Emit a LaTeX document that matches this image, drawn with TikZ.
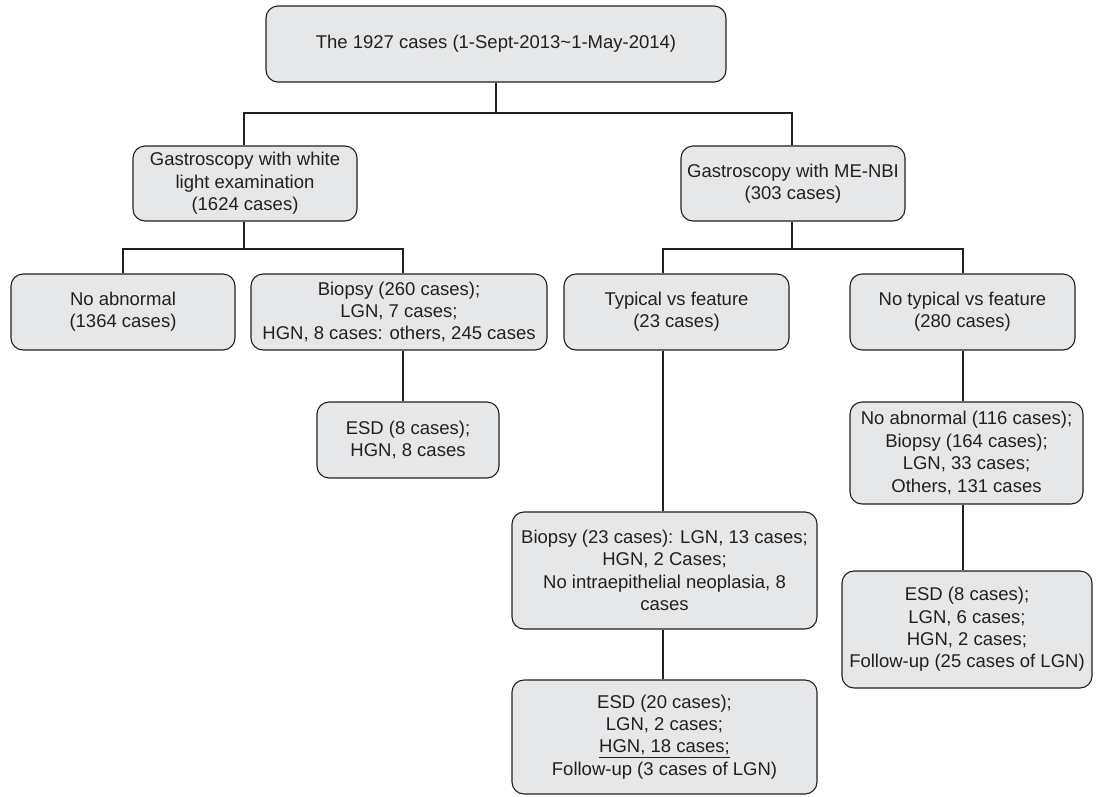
\documentclass[tikz,border=0pt]{standalone}
\usepackage{fontspec}
\setmainfont{Liberation Sans}
\definecolor{ink}{HTML}{231F20}
\definecolor{boxfill}{HTML}{E6E7E8}
\tikzset{
  box/.style={draw=ink, line width=1.1pt, fill=boxfill, rounded corners=12pt,
    align=center, inner sep=0pt, text=ink,
    font=\fontsize{18.5}{22.4}\selectfont},
  conn/.style={draw=ink, line width=2pt}
}
\begin{document}
\begin{tikzpicture}[x=1pt,y=-1pt]
\useasboundingbox (0,0) rectangle (1096,796);
% boxes
\node[box, minimum width=460, minimum height=76] (top) at (496,44) {The 1927 cases (1-Sept-2013\textasciitilde 1-May-2014)};
\node[box, minimum width=224, minimum height=75] (wl) at (245,183.5) {Gastroscopy with white\\light examination\\(1624 cases)};
\node[box, minimum width=224, minimum height=75] (nbi) at (793,183.5) {Gastroscopy with ME-NBI\\(303 cases)};
\node[box, minimum width=224, minimum height=76] (noab) at (123,312) {No abnormal\\(1364 cases)};
\node[box, minimum width=296, minimum height=76] (bio260) at (399,312) {Biopsy (260 cases);\\LGN, 7 cases;\\HGN, 8 cases: others, 245 cases};
\node[box, minimum width=225, minimum height=76] (typ) at (676.5,312) {Typical vs feature\\(23 cases)};
\node[box, minimum width=225, minimum height=76] (notyp) at (962.5,312) {No typical vs feature\\(280 cases)};
\node[box, minimum width=182, minimum height=76] (esd8) at (408,440) {ESD (8 cases);\\HGN, 8 cases};
\node[box, minimum width=305, minimum height=117] (bio23) at (664.5,570.5) {Biopsy (23 cases): LGN, 13 cases;\\HGN, 2 Cases;\\No intraepithelial neoplasia, 8\\cases};
\node[box, minimum width=305, minimum height=114] (esd20) at (664.5,737) {ESD (20 cases);\\LGN, 2 cases;\\\underline{HGN, 18 cases;}\\Follow-up (3 cases of LGN)};
\node[box, minimum width=233, minimum height=102] (noab116) at (966.5,453) {No abnormal (116 cases);\\Biopsy (164 cases);\\LGN, 33 cases;\\Others, 131 cases};
\node[box, minimum width=250, minimum height=117] (esd8r) at (967,629.5) {ESD (8 cases);\\LGN, 6 cases;\\HGN, 2 cases;\\Follow-up (25 cases of LGN)};
% junctions
\coordinate (j1) at (496,113);
\coordinate (j2) at (244,249);
\coordinate (j3) at (792,249);
% connectors
\draw[conn] (top.south) -- (j1);
\draw[conn] ([xshift=-1]wl.north) |- (j1) -| ([xshift=-1]nbi.north);
\draw[conn] ([xshift=-1]wl.south) -- (j2);
\draw[conn] (noab.north) |- (j2) -| ([xshift=4]bio260.north);
\draw[conn] ([xshift=-1]nbi.south) -- (j3);
\draw[conn] ([xshift=-13.5]typ.north) |- (j3) -| ([xshift=0.5]notyp.north);
\draw[conn] ([xshift=4]bio260.south) -- ([xshift=4]bio260.south |- esd8.north);
\draw[conn] ([xshift=-13.5]typ.south) -- ([xshift=-13.5]typ.south |- bio23.north);
\draw[conn] ([xshift=-1.5]bio23.south) -- ([xshift=-1.5]bio23.south |- esd20.north);
\draw[conn] ([xshift=0.5]notyp.south) -- ([xshift=0.5]notyp.south |- noab116.north);
\draw[conn] ([xshift=0.5]notyp.south |- noab116.south) -- ([xshift=0.5]notyp.south |- esd8r.north);
\end{tikzpicture}
\end{document}
